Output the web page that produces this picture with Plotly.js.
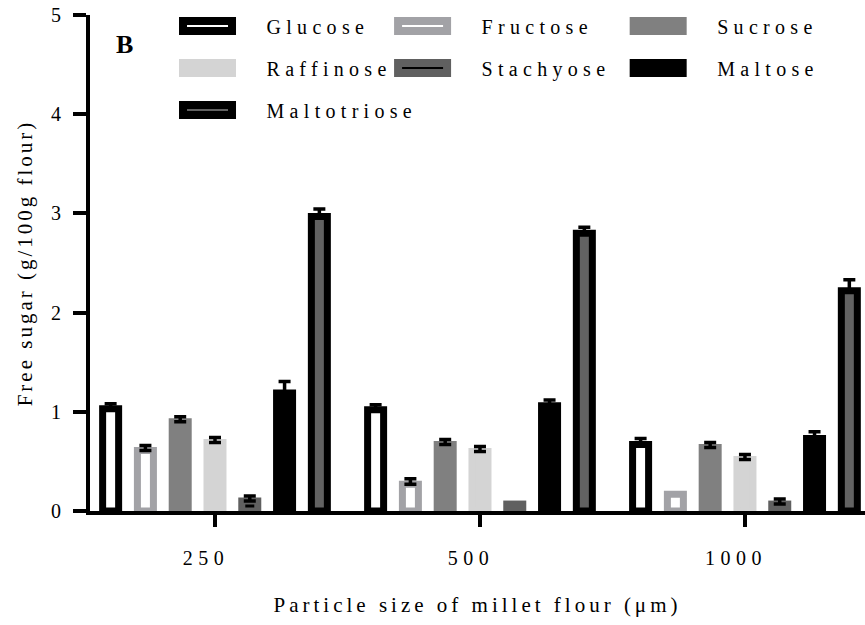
<!DOCTYPE html>
<html>
<head>
<meta charset="utf-8">
<script src="https://cdn.plot.ly/plotly-3.0.1.min.js"></script>
<style>
  html, body { margin: 0; padding: 0; background: #ffffff; }
  /* wide tracking on the labels, as in the printed figure */
  svg text.legendtext,
  .infolayer [class*="legend"] text { letter-spacing: 5.3px !important; }
  svg text.xtitle { letter-spacing: 4px; }
  svg text.ytitle { letter-spacing: 3px; }
  .xtick text { letter-spacing: 5.5px; }
</style>
</head>
<body>
<div id="chart" style="width:865px;height:625px;"></div>
<script>
// Particle size of millet flour (µm)
const particleSizes = ['250', '500', '1000'];

// Mean free sugar content, g/100 g flour
const glucose     = [1.03, 1.02, 0.67];
const fructose    = [0.61, 0.27, 0.17];
const sucrose     = [0.90, 0.67, 0.64];
const raffinose   = [0.69, 0.60, 0.52];
const stachyose   = [0.10, 0.07, 0.07];
const maltose     = [1.19, 1.06, 0.73];
const maltotriose = [2.97, 2.80, 2.22];

// Standard deviations (null: no error bar shown)
const glucoseSD     = [0.05, 0.05, 0.06];
const fructoseSD    = [0.05, 0.055, null];
const sucroseSD     = [0.05, 0.05, 0.05];
const raffinoseSD   = [0.05, 0.05, 0.05];
const stachyoseSD   = [0.05, null, 0.05];
const maltoseSD     = [0.115, 0.06, 0.07];
const maltotrioseSD = [0.075, 0.06, 0.11];

const yTicks = [0, 1, 2, 3, 4, 5];

// name, means, sd, fill, outline, legend column
const series = [
  ['Glucose',     glucose,     glucoseSD,     '#ffffff', '#000000', 'legend'],
  ['Fructose',    fructose,    fructoseSD,    '#ffffff', '#a2a2a6', 'legend2'],
  ['Sucrose',     sucrose,     sucroseSD,     '#808080', '#808080', 'legend3'],
  ['Raffinose',   raffinose,   raffinoseSD,   '#d4d4d4', '#d4d4d4', 'legend'],
  ['Stachyose',   stachyose,   stachyoseSD,   '#000000', '#606060', 'legend2'],
  ['Maltose',     maltose,     maltoseSD,     '#000000', '#000000', 'legend3'],
  ['Maltotriose', maltotriose, maltotrioseSD, '#626262', '#000000', 'legend']
];

const traces = series.map(([name, y, sd, fill, edge, leg]) => ({
  type: 'bar',
  name: name,
  x: particleSizes,
  y: y,
  legend: leg,
  legendgroup: name,
  marker: { color: fill, line: { color: edge, width: 7 } },
  error_y: {
    type: 'data',
    symmetric: false,
    array: sd.map(v => (v === null ? NaN : v)),
    arrayminus: sd.map(v => (v === null ? NaN : 0)),
    visible: true, color: '#000000', thickness: 3.5, width: 6
  },
  hoverinfo: 'skip'
}));

const serif = 'Liberation Serif, Times New Roman, serif';

const legendBase = {
  orientation: 'v',
  xanchor: 'left',
  yanchor: 'top',
  y: 1.017,
  bgcolor: 'rgba(0,0,0,0)',
  borderwidth: 0,
  itemwidth: 108,
  tracegroupgap: 13,
  traceorder: 'grouped',
  font: { family: serif, size: 20, color: '#000000' }
};

const layout = {
  width: 865,
  height: 625,
  margin: { l: 90, r: 0, t: 15, b: 114, pad: 0 },
  paper_bgcolor: '#ffffff',
  plot_bgcolor: '#ffffff',
  font: { family: serif, size: 20, color: '#000000' },
  barmode: 'group',
  bargap: 0.081,
  bargroupgap: 0.54,
  showlegend: true,
  legend:  Object.assign({}, legendBase, { x: 0.0755 }),
  legend2: Object.assign({}, legendBase, { x: 0.353 }),
  legend3: Object.assign({}, legendBase, { x: 0.657 }),
  xaxis: {
    type: 'category',
    range: [-0.4717, 2.453],
    showline: true, linewidth: 4, linecolor: '#000000',
    ticks: 'outside', ticklen: 12, tickwidth: 4, tickcolor: '#000000',
    showgrid: false, zeroline: false,
    tickfont: { family: serif, size: 20, color: '#000000' },
    ticklabelshift: -9,
    ticklabelstandoff: 14,
    title: { text: 'Particle size of millet flour (μm)', font: { family: serif, size: 21, color: '#000000' }, standoff: 30 }
  },
  yaxis: {
    range: [0, 5],
    tickvals: yTicks,
    ticktext: yTicks.map(String),
    showline: true, linewidth: 4, linecolor: '#000000',
    ticks: 'outside', ticklen: 13, tickwidth: 4, tickcolor: '#000000',
    showgrid: false, zeroline: false,
    tickfont: { family: serif, size: 20, color: '#000000' },
    ticklabelstandoff: 8,
    title: { text: 'Free sugar (g/100g flour)', font: { family: serif, size: 21, color: '#000000' }, standoff: 14 }
  },
  annotations: [{
    text: '<b>B</b>',
    xref: 'paper', yref: 'paper',
    x: 0.045, y: 0.9405,
    xanchor: 'center', yanchor: 'middle',
    showarrow: false,
    font: { family: serif, size: 26, color: '#000000' }
  }]
};

// wide, thick-edged legend swatches and tracked, unclipped legend labels
function styleLegends(gd) {
  gd.querySelectorAll('.legendpoints path').forEach(p => {
    p.setAttribute('d', 'M24.5,5H-24.5V-5H24.5Z');
    p.style.strokeWidth = '8px';
  });
  gd.querySelectorAll('.infolayer g[class*="legend"]').forEach(g => {
    g.removeAttribute('clip-path');
    g.querySelectorAll('[clip-path]').forEach(e => e.removeAttribute('clip-path'));
    g.querySelectorAll('text').forEach(t => t.style.setProperty('letter-spacing', '5.3px', 'important'));
  });
}

Plotly.newPlot('chart', traces, layout, { staticPlot: true, displayModeBar: false }).then(gd => {
  styleLegends(gd);
  gd.on('plotly_afterplot', () => styleLegends(gd));
  setTimeout(() => styleLegends(gd), 50);
});
</script>
</body>
</html>
